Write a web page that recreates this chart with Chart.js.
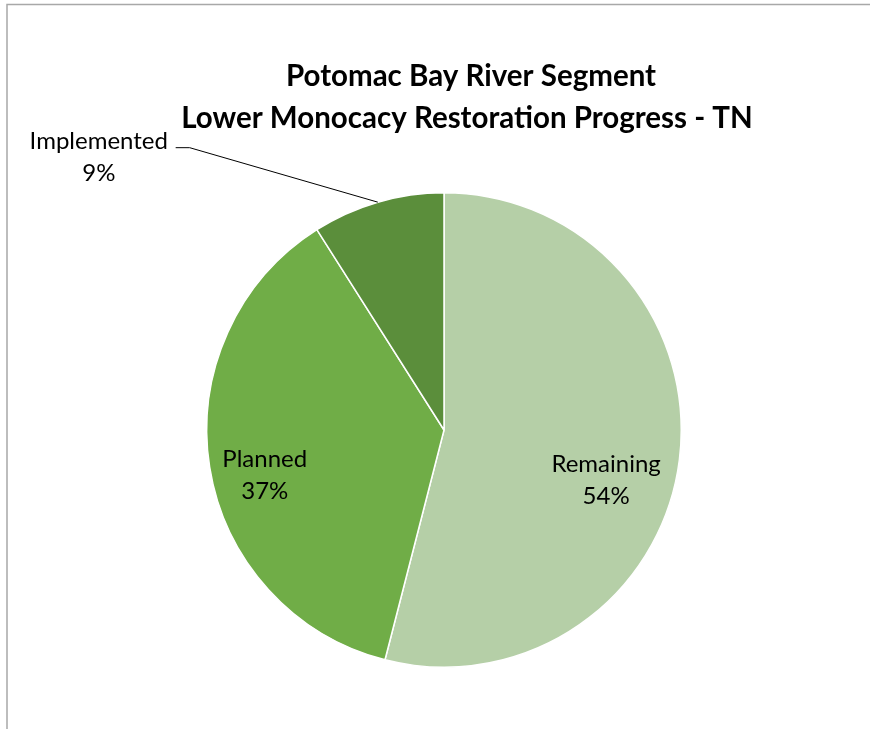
<!DOCTYPE html>
<html>
<head>
<meta charset="utf-8">
<script src="https://cdn.jsdelivr.net/npm/chart.js@4"></script>
<style>
  html, body { margin: 0; padding: 0; background: #ffffff; }
  #wrap { width: 870px; height: 729px; position: relative; }
</style>
</head>
<body>
<div id="wrap"><canvas id="c" width="870" height="729"></canvas></div>
<script>
// Restoration progress shares (percent of TN load)
const categories = ['Remaining', 'Planned', 'Implemented'];
const shares = [54, 37, 9];
const sliceColors = ['#B5CFA7', '#70AD47', '#5B8E3B'];
const titleLines = ['Potomac Bay River Segment', 'Lower Monocacy Restoration Progress - TN'];

const FONT = 'Lato, "Open Sans", sans-serif';

// Outer frame of the chart box
const framePlugin = {
  id: 'frame',
  beforeDraw(chart) {
    const ctx = chart.ctx;
    ctx.save();
    ctx.fillStyle = '#ffffff';
    ctx.fillRect(0, 0, chart.width, chart.height);
    ctx.strokeStyle = '#a8a8a8';
    ctx.lineWidth = 1.5;
    ctx.beginPath();
    ctx.moveTo(7, chart.height + 2);
    ctx.lineTo(7, 4.5);
    ctx.lineTo(chart.width + 2, 4.5);
    ctx.stroke();
    ctx.restore();
  }
};

// Two-line bold title
const titlePlugin = {
  id: 'twoLineTitle',
  afterDraw(chart) {
    const ctx = chart.ctx;
    ctx.save();
    ctx.fillStyle = '#000000';
    ctx.font = 'bold 29.5px ' + FONT;
    ctx.textAlign = 'center';
    ctx.textBaseline = 'middle';
    ctx.fillText(titleLines[0], 471, 76);
    ctx.fillText(titleLines[1], 467, 118);
    ctx.restore();
  }
};

// Category name + percent labels on each slice
const sliceLabelPlugin = {
  id: 'sliceLabels',
  afterDatasetsDraw(chart, args, opts) {
    const ctx = chart.ctx;
    const meta = chart.getDatasetMeta(0);
    const total = shares.reduce((a, b) => a + b, 0);
    ctx.save();
    ctx.font = opts.fontSize + 'px ' + FONT;
    ctx.fillStyle = '#000000';
    ctx.textAlign = 'center';
    ctx.textBaseline = 'middle';
    meta.data.forEach((arc, i) => {
      const p = arc.getProps(['x', 'y', 'startAngle', 'endAngle', 'outerRadius'], true);
      const mid = (p.startAngle + p.endAngle) / 2;
      const place = opts.placement[i];
      const pct = Math.round(shares[i] / total * 100) + '%';
      let lx, ly;
      if (place.outside) {
        // leader line from slice edge to the label
        const ex = p.x + Math.cos(mid) * p.outerRadius;
        const ey = p.y + Math.sin(mid) * p.outerRadius;
        const bx = p.x + place.elbow[0] * p.outerRadius;
        const by = p.y + place.elbow[1] * p.outerRadius;
        ctx.strokeStyle = '#000000';
        ctx.lineWidth = 1;
        ctx.beginPath();
        ctx.moveTo(ex, ey);
        ctx.lineTo(bx, by);
        ctx.lineTo(bx - 14, by);
        ctx.stroke();
        lx = p.x + place.label[0] * p.outerRadius;
        ly = p.y + place.label[1] * p.outerRadius;
      } else {
        const a = mid + place.shift * Math.PI / 180;
        lx = p.x + Math.cos(a) * p.outerRadius * place.r;
        ly = p.y + Math.sin(a) * p.outerRadius * place.r;
      }
      const gap = opts.lineGap;
      ctx.fillText(categories[i], lx, ly - gap / 2);
      ctx.fillText(pct, lx, ly + gap / 2);
    });
    ctx.restore();
  }
};

new Chart(document.getElementById('c'), {
  type: 'pie',
  data: {
    labels: categories,
    datasets: [{
      data: shares,
      backgroundColor: sliceColors,
      borderColor: '#ffffff',
      borderWidth: 1.5
    }]
  },
  options: {
    responsive: false,
    animation: false,
    events: [],
    layout: { padding: { left: 206, right: 188, top: 192, bottom: 61 } },
    plugins: {
      legend: { display: false },
      title: { display: false },
      tooltip: { enabled: false },
      sliceLabels: {
        fontSize: 24,
        lineGap: 32,
        placement: [
          { r: 0.715, shift: 9.9 },
          { r: 0.779, shift: -5.1 },
          { outside: true, elbow: [-1.072, -1.19], label: [-1.455, -1.15] }
        ]
      }
    }
  },
  plugins: [framePlugin, titlePlugin, sliceLabelPlugin]
});
</script>
</body>
</html>
